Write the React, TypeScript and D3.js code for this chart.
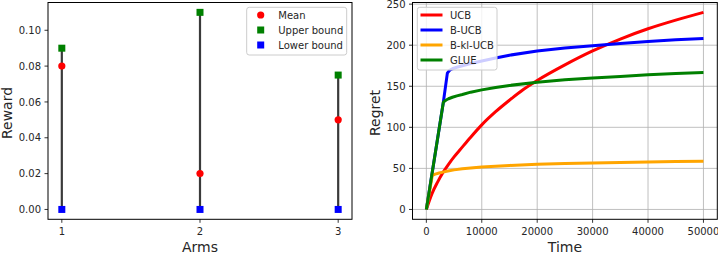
import React from "react";
import * as d3 from "d3";

// ---- Left chart data ----
const arms = [1, 2, 3];
const meanReward = [0.08, 0.02, 0.05];
const upperBound = [0.09, 0.11, 0.075];
const lowerBound = [0.0, 0.0, 0.0];
const leftYTicks = [0.0, 0.02, 0.04, 0.06, 0.08, 0.1];

// ---- Right chart data ----
const ucbT = [0, 1000, 2000, 3000, 4000, 5000, 6000, 8000, 10000, 12500, 15000, 17500, 20000, 25000, 30000, 35000, 40000, 45000, 50000];
const ucbV = [0, 19, 33, 45, 55, 64, 72, 88, 103, 119, 133, 146, 157, 176, 193, 207.5, 220, 230.5, 240];
const bucbT = [0, 3066, 3790, 4200, 4700, 5500, 6500, 8000, 10000, 12500, 15000, 20000, 25000, 30000, 35000, 40000, 45000, 50000];
const bucbV = [0, 130.6, 166, 169.5, 171.3, 173.2, 175, 177.8, 180.8, 184.5, 187.8, 193, 196.5, 199.4, 202, 204.5, 206.5, 208.3];
const bklT = [0, 1080, 1600, 2300, 3000, 3660, 5000, 6500, 8000, 10000, 12500, 15000, 20000, 25000, 30000, 35000, 40000, 45000, 50000];
const bklV = [0, 41.6, 43, 44.3, 45.4, 46.5, 48.2, 49.5, 50.5, 51.6, 52.7, 53.6, 55, 55.9, 56.6, 57.2, 57.8, 58.3, 58.7];
const glueT = [0, 3066, 3500, 4000, 4700, 5500, 6500, 8000, 10000, 12500, 15000, 20000, 25000, 30000, 35000, 40000, 45000, 50000];
const glueV = [0, 130.6, 133, 134.8, 136.6, 138.3, 140, 142.8, 145.6, 148.5, 151, 155, 157.8, 160, 162, 164, 165.5, 166.7];
const seriesNames = ["UCB", "B-UCB", "B-kl-UCB", "GLUE"];
const seriesColors = ["#ff0000", "#0000ff", "#ffa500", "#008000"];
const rightXTicks = [0, 10000, 20000, 30000, 40000, 50000];
const rightYTicks = [0, 50, 100, 150, 200, 250];

const FONT = "DejaVu Sans, sans-serif";
const TXT = "#262626";

export default function App() {
  const top = 2.5;
  const bottom = 219.3;

  // Left axes
  const lx0 = 48, lx1 = 352;
  const lxs = d3.scaleLinear().domain([0.9, 3.1]).range([lx0, lx1]);
  const lys = d3.scaleLinear().domain([-0.0055, 0.1155]).range([bottom, top]);

  // Right axes
  const rx0 = 412.5, rx1 = 717.3;
  const rxs = d3.scaleLinear().domain([-2500, 52500]).range([rx0, rx1]);
  const rys = d3.scaleLinear().domain([-12, 252]).range([bottom, top]);

  const series = [
    ucbT.map((t, i) => [t, ucbV[i]]),
    bucbT.map((t, i) => [t, bucbV[i]]),
    bklT.map((t, i) => [t, bklV[i]]),
    glueT.map((t, i) => [t, glueV[i]]),
  ];
  const smooth = d3
    .line<number[]>()
    .x((d) => rxs(d[0]))
    .y((d) => rys(d[1]))
    .curve(d3.curveMonotoneX);
  const straight = d3
    .line<number[]>()
    .x((d) => rxs(d[0]))
    .y((d) => rys(d[1]))
    .curve(d3.curveLinear);

  const leftLegend = [
    { label: "Mean", color: "#ff0000", shape: "circle" },
    { label: "Upper bound", color: "#008000", shape: "square" },
    { label: "Lower bound", color: "#0000ff", shape: "square" },
  ];

  return (
    <svg width={718} height={254} style={{ position: "absolute", left: 0, top: 0 }} fontFamily={FONT}>
      <rect x={0} y={0} width={718} height={254} fill="#fff" />

      {/* ---------- LEFT ---------- */}
      {arms.map((a, i) => (
        <line key={"v" + i} x1={lxs(a)} x2={lxs(a)} y1={lys(lowerBound[i])} y2={lys(upperBound[i])} stroke="#3a3a3a" strokeWidth={2.2} />
      ))}
      {arms.map((a, i) => (
        <rect key={"u" + i} x={lxs(a) - 3.5} y={lys(upperBound[i]) - 3.5} width={7} height={7} fill="#008000" />
      ))}
      {arms.map((a, i) => (
        <rect key={"l" + i} x={lxs(a) - 3.5} y={lys(lowerBound[i]) - 3.5} width={7} height={7} fill="#0000ff" />
      ))}
      {arms.map((a, i) => (
        <circle key={"m" + i} cx={lxs(a)} cy={lys(meanReward[i])} r={3.6} fill="#ff0000" />
      ))}
      <rect x={lx0} y={top} width={lx1 - lx0} height={bottom - top} fill="none" stroke="#000" strokeWidth={1} />
      {leftYTicks.map((t) => (
        <g key={"ly" + t}>
          <line x1={lx0 - 3.5} x2={lx0} y1={lys(t)} y2={lys(t)} stroke="#000" strokeWidth={0.8} />
          <text x={lx0 - 7} y={lys(t) + 3.6} textAnchor="end" fontSize={10} fill={TXT}>
            {t.toFixed(2)}
          </text>
        </g>
      ))}
      {arms.map((a) => (
        <g key={"lx" + a}>
          <line x1={lxs(a)} x2={lxs(a)} y1={bottom} y2={bottom + 3.5} stroke="#000" strokeWidth={0.8} />
          <text x={lxs(a)} y={235} textAnchor="middle" fontSize={10} fill={TXT}>
            {a}
          </text>
        </g>
      ))}
      <text x={(lx0 + lx1) / 2} y={251.5} textAnchor="middle" fontSize={14} fill={TXT}>
        Arms
      </text>
      <text transform={`translate(11.5,113) rotate(-90)`} textAnchor="middle" fontSize={14} fill={TXT}>
        Reward
      </text>
      {/* left legend */}
      <rect x={246.7} y={7.3} width={100} height={47.7} rx={2.5} fill="#fff" fillOpacity={0.8} stroke="#cccccc" strokeWidth={1} />
      {leftLegend.map((e, i) => {
        const cy = 15 + i * 15;
        return (
          <g key={"ll" + i}>
            {e.shape === "circle" ? (
              <circle cx={260.7} cy={cy} r={3.6} fill={e.color} />
            ) : (
              <rect x={260.7 - 3.5} y={cy - 3.5} width={7} height={7} fill={e.color} />
            )}
            <text x={278.3} y={cy + 3.6} fontSize={10} fill={TXT}>
              {e.label}
            </text>
          </g>
        );
      })}

      {/* ---------- RIGHT ---------- */}
      {rightXTicks.map((t) => (
        <line key={"gx" + t} x1={rxs(t)} x2={rxs(t)} y1={top} y2={bottom} stroke="#b0b0b0" strokeWidth={0.8} />
      ))}
      {rightYTicks.map((t) => (
        <line key={"gy" + t} x1={rx0} x2={rx1} y1={rys(t)} y2={rys(t)} stroke="#b0b0b0" strokeWidth={0.8} />
      ))}
      {series.map((s, i) => (
        <path
          key={"s" + i}
          d={(i === 0 ? smooth(s) : straight(s)) || ""}
          fill="none"
          stroke={seriesColors[i]}
          strokeWidth={3}
          strokeLinejoin="round"
          strokeLinecap="butt"
        />
      ))}
      <rect x={rx0} y={top} width={rx1 - rx0} height={bottom - top} fill="none" stroke="#000" strokeWidth={1} />
      {rightYTicks.map((t) => (
        <g key={"ry" + t}>
          <line x1={rx0 - 3.5} x2={rx0} y1={rys(t)} y2={rys(t)} stroke="#000" strokeWidth={0.8} />
          <text x={rx0 - 7} y={rys(t) + 3.6} textAnchor="end" fontSize={10} fill={TXT}>
            {t}
          </text>
        </g>
      ))}
      {rightXTicks.map((t) => (
        <g key={"rx" + t}>
          <line x1={rxs(t)} x2={rxs(t)} y1={bottom} y2={bottom + 3.5} stroke="#000" strokeWidth={0.8} />
          <text x={rxs(t)} y={235} textAnchor="middle" fontSize={10} fill={TXT}>
            {t}
          </text>
        </g>
      ))}
      <text x={(rx0 + rx1) / 2} y={251.5} textAnchor="middle" fontSize={14} fill={TXT}>
        Time
      </text>
      <text transform={`translate(380.2,113) rotate(-90)`} textAnchor="middle" fontSize={14} fill={TXT}>
        Regret
      </text>
      {/* right legend */}
      <rect x={417.3} y={7.3} width={79.7} height={62.7} rx={2.5} fill="#fff" fillOpacity={0.8} stroke="#cccccc" strokeWidth={1} />
      {seriesNames.map((n, i) => {
        const cy = 15 + i * 15;
        return (
          <g key={"rl" + i}>
            <line x1={420.5} x2={442.5} y1={cy} y2={cy} stroke={seriesColors[i]} strokeWidth={3} />
            <text x={450} y={cy + 3.6} fontSize={10} fill={TXT}>
              {n}
            </text>
          </g>
        );
      })}
    </svg>
  );
}
